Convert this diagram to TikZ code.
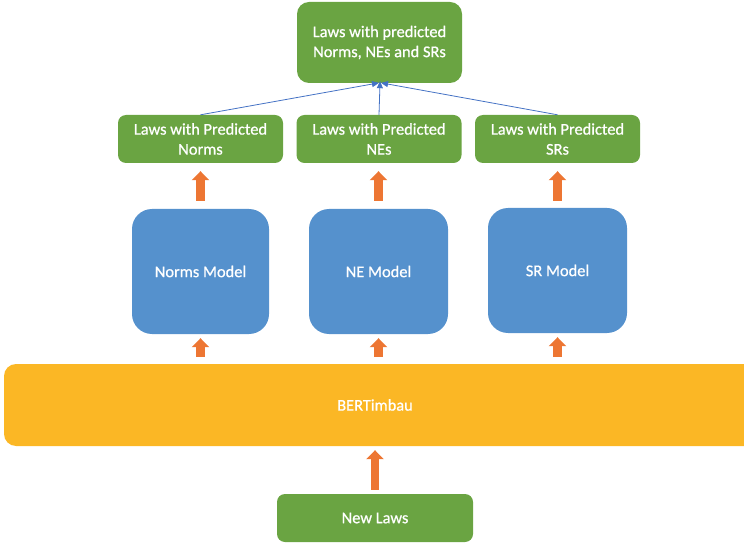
\documentclass[tikz,border=0pt]{standalone}
\usepackage{fontspec}
\setmainfont{Carlito}
\newfontfamily\boxfont{Carlito}[FakeBold=0.7]
\usetikzlibrary{arrows.meta,calc}
\definecolor{gbox}{HTML}{6AA442}
\definecolor{bbox}{HTML}{5591CD}
\definecolor{obox}{HTML}{FBB725}
\definecolor{oarr}{HTML}{ED7633}
\definecolor{bline}{HTML}{4472C4}
\tikzset{
  txt/.style={text=white, font=\boxfont\fontsize{16.4}{20}\selectfont, align=center},
  greenbox/.style={txt, fill=gbox, rounded corners=8pt, inner sep=0pt},
  modelbox/.style={txt, fill=bbox, rounded corners=20pt, inner sep=0pt, minimum width=138pt, minimum height=125pt},
  blockarrow/.style={draw=oarr, line width=8.5pt, -{Triangle[width=17pt,length=9pt]}},
  thinarrow/.style={draw=bline, line width=0.8pt, -{Triangle[width=6pt,length=7pt]}}
}
\begin{document}
\begin{tikzpicture}[x=1pt,y=-1pt]
\useasboundingbox (0,0) rectangle (744,545);
% top
\node[greenbox, rounded corners=12pt, minimum width=165pt, minimum height=81pt] (top) at (379.5,42.5) {Laws with predicted\\Norms, NEs and SRs};
% predicted boxes
\node[greenbox, minimum width=165pt, minimum height=48pt] (pnorms) at (200.5,139) {Laws with Predicted\\Norms};
\node[greenbox, minimum width=165pt, minimum height=48pt] (pnes) at (379,139) {Laws with Predicted\\NEs};
\node[greenbox, minimum width=165pt, minimum height=48pt] (psrs) at (557.5,139) {Laws with Predicted\\SRs};
% models
\node[modelbox, minimum width=137pt] (mnorms) at (200.5,271.5) {Norms Model};
\node[modelbox, minimum width=139pt] (mne) at (378.5,271.5) {NE Model};
\node[modelbox, minimum width=139pt] (msr) at (557.5,270.5) {SR Model};
% BERTimbau bar
\node[fill=obox, rounded corners=12pt, inner sep=0pt, minimum width=790pt, minimum height=82pt,
      label={[txt, xshift=-24pt]center:BERTimbau}] (bert) at (399,405) {};
% new laws
\node[greenbox, minimum width=196pt, minimum height=48pt] (newlaws) at (375,518) {New Laws};
% thin blue arrows
\draw[thinarrow, shorten >=-2pt] (pnorms.north) -- ([xshift=-2.5pt]top.south);
\draw[thinarrow, shorten >=-2pt] (pnes.north) -- ([xshift=0.5pt]top.south);
\draw[thinarrow, shorten >=-2pt] (psrs.north) -- ([xshift=3.5pt]top.south);
% orange block arrows models -> predicted
\draw[blockarrow, shorten <=8pt, shorten >=8pt] (mnorms.north) -- (pnorms.south);
\draw[blockarrow, shorten <=8pt, shorten >=8pt] (mne.north) -- (mne.north |- pnes.south);
\draw[blockarrow, shorten <=7pt, shorten >=8pt] (msr.north) -- (msr.north |- psrs.south);
% bert -> models
\draw[blockarrow, shorten <=7pt, shorten >=4pt] (mnorms.south |- bert.north) -- (mnorms.south);
\draw[blockarrow, shorten <=7pt, shorten >=4pt] (mne.south |- bert.north) -- (mne.south);
\draw[blockarrow, shorten <=7pt, shorten >=4pt] (msr.south |- bert.north) -- (msr.south);
% new laws -> bert
\draw[blockarrow, shorten <=4pt, shorten >=4pt] (newlaws.north) -- (newlaws.north |- bert.south);
\end{tikzpicture}
\end{document}
